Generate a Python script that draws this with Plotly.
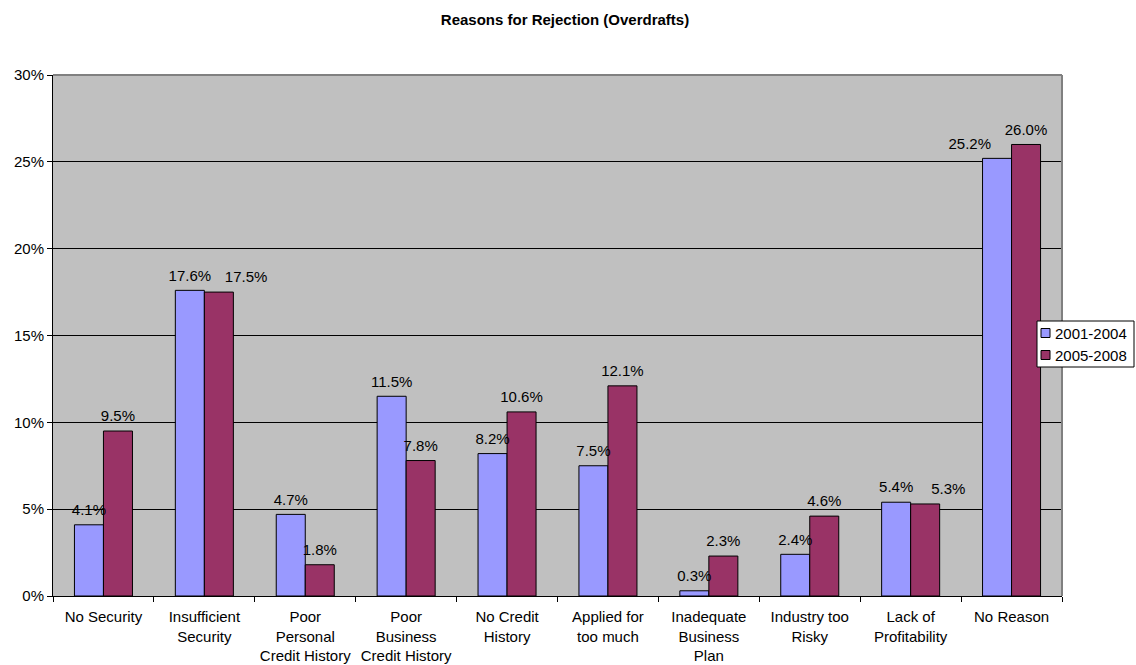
import plotly.graph_objects as go

categories = ["No Security", "Insufficient<br>Security", "Poor<br>Personal<br>Credit History",
              "Poor<br>Business<br>Credit History", "No Credit<br>History", "Applied for<br>too much",
              "Inadequate<br>Business<br>Plan", "Industry too<br>Risky", "Lack of<br>Profitability",
              "No Reason"]
series_names = ["2001-2004", "2005-2008"]
values_2001_2004 = [4.1, 17.6, 4.7, 11.5, 8.2, 7.5, 0.3, 2.4, 5.4, 25.2]
values_2005_2008 = [9.5, 17.5, 1.8, 7.8, 10.6, 12.1, 2.3, 4.6, 5.3, 26.0]
y_tick_vals = [0, 0.05, 0.10, 0.15, 0.20, 0.25, 0.30]

FONT = "Liberation Sans, Arial, sans-serif"
colors = ["#9999FF", "#993366"]
BARGAP = 0.425

series = [values_2001_2004, values_2005_2008]

# plot-area geometry in pixels (used for the legend box placement)
W, H = 1136, 665
L, R, T, B = 53, 74, 75, 69
PW, PH = W - L - R, H - T - B


def px_x(x):
    return (x - L) / PW


def px_y(y):
    return (H - B - y) / PH


# label placement: when the two labels of a category would collide, push the lower one outward
def label_positions(own, other, side):
    out = []
    for a, b in zip(own, other):
        if abs(a - b) < 1.0 and a < b:
            out.append("top " + side)
        else:
            out.append("top center")
    return out


fig = go.Figure()
for i, (name, vals, col) in enumerate(zip(series_names, series, colors)):
    fig.add_trace(go.Bar(
        x=categories, y=[v / 100 for v in vals], name=name,
        offsetgroup=str(i),
        marker=dict(color=col, line=dict(color="black", width=1)),
    ))
for i, (name, vals) in enumerate(zip(series_names, series)):
    other = series[1 - i]
    side = "left" if i == 0 else "right"
    fig.add_trace(go.Scatter(
        x=categories, y=[v / 100 for v in vals], mode="markers+text", offsetgroup=str(i),
        marker=dict(size=8, opacity=0),
        text=[f"{v:.1f}%" for v in vals],
        textposition=label_positions(vals, other, side),
        textfont=dict(family=FONT, size=15, color="black"),
        showlegend=False, hoverinfo="skip", cliponaxis=False,
    ))

fig.update_layout(
    width=W, height=H,
    margin=dict(l=L, r=R, t=T, b=B, autoexpand=False),
    paper_bgcolor="white", plot_bgcolor="#C0C0C0",
    barmode="group", bargap=BARGAP, bargroupgap=0,
    scattermode="group", scattergap=BARGAP,
    font=dict(family=FONT, size=15, color="black"),
    title=dict(text="<b>Reasons for Rejection (Overdrafts)</b>", x=565 / W, xanchor="center",
               y=1 - 20 / H, yanchor="middle", font=dict(family=FONT, size=15, color="black")),
    showlegend=False,
)
fig.update_xaxes(showline=True, linecolor="black", linewidth=1, ticks="outside", tickson="boundaries",
                 ticklen=5, tickcolor="black", showgrid=False, tickfont=dict(family=FONT, size=15),
                 tickangle=0, automargin=False, ticklabelstandoff=7)
fig.update_yaxes(range=[0, 0.30], tickvals=y_tick_vals, tickformat=".0%", showline=True, linecolor="black",
                 linewidth=1, ticks="outside", ticklen=5, tickcolor="black", showgrid=True,
                 gridcolor="black", gridwidth=1, zeroline=False, tickfont=dict(family=FONT, size=15),
                 automargin=False)
# gray top and right border of plot area
fig.add_shape(type="line", xref="paper", yref="paper", x0=0, x1=1, y0=1, y1=1,
              line=dict(color="#808080", width=2), layer="above")
fig.add_shape(type="line", xref="paper", yref="paper", x0=1, x1=1, y0=0, y1=1,
              line=dict(color="#808080", width=2), layer="above")

# legend (Excel style: small squares, boxed, overlapping the plot's right edge)
fig.add_shape(type="rect", xref="paper", yref="paper",
              x0=px_x(1037), x1=px_x(1134), y0=px_y(367), y1=px_y(321),
              fillcolor="white", line=dict(color="black", width=1), layer="above")
for k, (name, col) in enumerate(zip(series_names, colors)):
    cy = 333 + 22 * k
    fig.add_shape(type="rect", xref="paper", yref="paper",
                  x0=px_x(1041), x1=px_x(1050), y0=px_y(cy + 4.5), y1=px_y(cy - 4.5),
                  fillcolor=col, line=dict(color="black", width=1), layer="above")
    fig.add_annotation(xref="paper", yref="paper", x=px_x(1053), y=px_y(cy), text=name,
                       showarrow=False, xanchor="left", yanchor="middle",
                       font=dict(family=FONT, size=15, color="black"))

fig.write_html("out.html", config={"displayModeBar": False},
               post_script="document.body.style.margin='0';document.body.style.overflow='hidden';")
